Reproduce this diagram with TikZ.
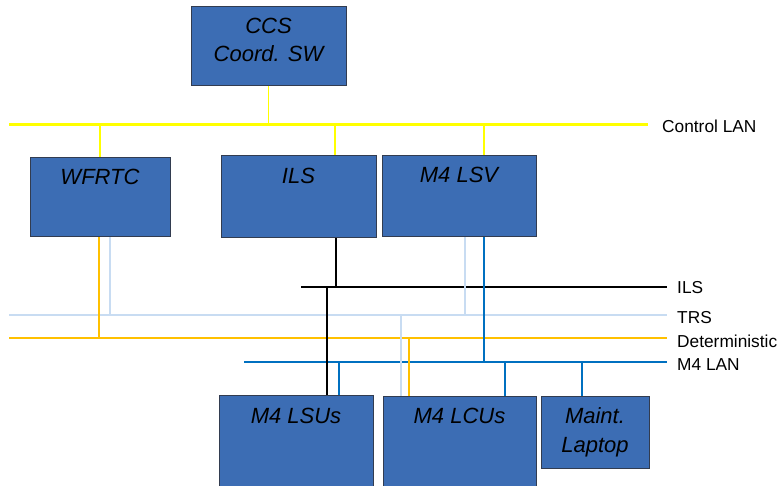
\documentclass[tikz,border=0pt]{standalone}
\usepackage{fontspec}
\setmainfont{Liberation Sans}
\definecolor{boxfill}{RGB}{60,109,180}
\definecolor{boxline}{RGB}{50,60,80}
\definecolor{ctlyellow}{RGB}{255,255,0}
\definecolor{detorange}{RGB}{255,192,0}
\definecolor{trsblue}{RGB}{200,220,242}
\definecolor{m4blue}{RGB}{0,112,192}
\begin{document}
\begin{tikzpicture}[x=1pt,y=-1pt,
  unit/.style={draw=boxline,line width=1pt,fill=boxfill,inner sep=0pt,outer sep=0pt},
  boxtext/.style={anchor=base,font=\fontsize{22}{26}\selectfont\itshape,inner sep=0pt},
  bustext/.style={anchor=base west,font=\fontsize{17.3}{20}\selectfont,inner sep=0pt},
  ctlbus/.style={draw=ctlyellow,line width=2.4pt},
  ctldrop/.style={draw=ctlyellow,line width=1.5pt},
  ilsbus/.style={draw=black,line width=2pt},
  ilsdrop/.style={draw=black,line width=1.4pt},
  trsbus/.style={draw=trsblue,line width=2pt},
  trsdrop/.style={draw=trsblue,line width=1.5pt},
  detbus/.style={draw=detorange,line width=2pt},
  detdrop/.style={draw=detorange,line width=1.5pt},
  m4bus/.style={draw=m4blue,line width=2pt},
  m4drop/.style={draw=m4blue,line width=1.4pt}]
\useasboundingbox (0,0) rectangle (778,486);
\clip (0,0) rectangle (778,486);

% bus end points
\coordinate (ctlL) at (9,124.5);
\coordinate (ctlR) at (648,124.5);
\coordinate (ilsL) at (301,287);
\coordinate (ilsR) at (667,287);
\coordinate (trsL) at (9,315);
\coordinate (trsR) at (667,315);
\coordinate (detL) at (9,338);
\coordinate (detR) at (667,338);
\coordinate (m4L) at (244,362);
\coordinate (m4R) at (667,362);

% buses
\draw[ctlbus] (ctlL) -- (ctlR);
\draw[trsbus] (trsL) -- (trsR);
\draw[detbus] (detL) -- (detR);
\draw[m4bus] (m4L) -- (m4R);
\draw[ilsbus] (ilsL) -- (ilsR);

% bus labels
\node[bustext] (lctl) at (662,133) {Control LAN};
\node[bustext] (lils) at (677,293) {ILS};
\node[bustext] (ltrs) at (677,323) {TRS};
\node[bustext] (ldet) at (677,347) {Deterministic};
\node[bustext] (lm4) at (677,370) {M4 LAN};

% drops (drawn before boxes)
\draw[ctldrop] (268.5,124.5) -- (268.5,50);
\draw[ctldrop] (100,124.5) -- (100,197);
\draw[ctldrop] (335,124.5) -- (335,197);
\draw[ctldrop] (484,124.5) -- (484,197);

\draw[detdrop] (99,338) -- (99,200);
\draw[trsdrop] (110,315) -- (110,200);

\draw[ilsdrop] (336,287) -- (336,200);
\draw[trsdrop] (465,315) -- (465,200);
\draw[m4drop] (484,362) -- (484,200);

\draw[ilsdrop] (327,287) -- (327,420);
\draw[m4drop] (339,362) -- (339,420);
\draw[trsdrop] (401,315) -- (401,420);
\draw[detdrop] (409,338) -- (409,420);
\draw[m4drop] (505,362) -- (505,420);
\draw[m4drop] (582,362) -- (582,420);

% boxes
\node[unit,minimum width=155pt,minimum height=79pt] (ccs) at (268.5,46.5) {};
\node[unit,minimum width=140pt,minimum height=78pt] (wfrtc) at (100,197) {};
\node[unit,minimum width=155pt,minimum height=81pt] (ils) at (298.5,196.5) {};
\node[unit,minimum width=154pt,minimum height=80pt] (lsv) at (459,196) {};
\node[unit,minimum width=154pt,minimum height=110pt] (lsu) at (296,450) {};
\node[unit,minimum width=153pt,minimum height=110pt] (lcu) at (459.5,451) {};
\node[unit,minimum width=108pt,minimum height=72pt] (mnt) at (595,432) {};

% box texts
\node[boxtext] (tccs1) at (268.5,33.5) {CCS};
\node[boxtext] (tccs2) at (268.5,62) {Coord. SW};
\node[boxtext] (twf) at (100,185) {WFRTC};
\node[boxtext] (tils) at (298.5,184) {ILS};
\node[boxtext] (tlsv) at (459,183) {M4 LSV};
\node[boxtext] (tlsu) at (296,423) {M4 LSUs};
\node[boxtext] (tlcu) at (459.5,423) {M4 LCUs};
\node[boxtext] (tmn1) at (595,423) {Maint.};
\node[boxtext] (tmn2) at (595,452) {Laptop};
\end{tikzpicture}
\end{document}
